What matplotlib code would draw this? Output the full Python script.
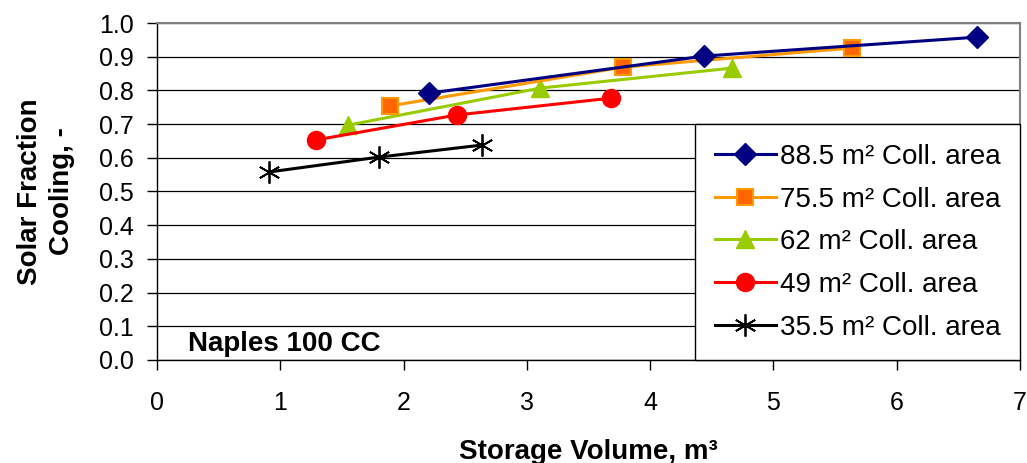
import matplotlib
matplotlib.use('Agg')
import matplotlib.pyplot as plt

plt.rcParams['font.family'] = ['Liberation Sans', 'DejaVu Sans']

# Datos
etiquetas = ['88.5 m² Coll. area', '75.5 m² Coll. area', '62 m² Coll. area',
             '49 m² Coll. area', '35.5 m² Coll. area']
vol_885 = [2.21, 4.44, 6.65]
sf_885 = [0.792, 0.902, 0.958]
vol_755 = [1.89, 3.78, 5.64]
sf_755 = [0.754, 0.869, 0.926]
vol_62 = [1.55, 3.11, 4.66]
sf_62 = [0.697, 0.807, 0.866]
vol_49 = [1.29, 2.43, 3.68]
sf_49 = [0.653, 0.727, 0.777]
vol_355 = [0.91, 1.80, 2.64]
sf_355 = [0.558, 0.602, 0.638]

fig = plt.figure(figsize=(10.27, 4.63), dpi=100)
ax = fig.add_axes([0.1529, 0.2225, 0.8403, 0.7278])

ax.plot(vol_885, sf_885, color='#000080', lw=2.2, marker='D', ms=11,
        mfc='#000080', mec='#000080', label=etiquetas[0], zorder=5)
ax.plot(vol_755, sf_755, color='#FF9900', lw=2.2, marker='s', ms=12,
        mfc='#FF6600', mec='#FF9900', mew=1.5, label=etiquetas[1], zorder=4)
ax.plot(vol_62, sf_62, color='#99CC00', lw=2.2, marker='^', ms=13,
        mfc='#99CC00', mec='#99CC00', label=etiquetas[2], zorder=3)
ax.plot(vol_49, sf_49, color='#FF0000', lw=2.2, marker='o', ms=13,
        mfc='#FF0000', mec='#FF0000', label=etiquetas[3], zorder=3)
ax.plot(vol_355, sf_355, color='#000000', lw=2.2, marker=(6, 2, 0), ms=16,
        mew=1.3, mec='#000000', label=etiquetas[4], zorder=3)

ax.set_xlim(0, 7)
ax.set_ylim(0, 1.0)
ax.set_xticks(range(0, 8))
ax.set_yticks([i / 10 for i in range(11)])
ax.set_yticklabels(['%.1f' % (i / 10) for i in range(11)])
ax.tick_params(labelsize=18, direction='out', length=7, width=1, color='black')
ax.tick_params(axis='y', pad=10)
ax.tick_params(axis='x', pad=15.5)
ax.grid(axis='y', color='black', lw=0.9, zorder=0)
ax.set_axisbelow(True)

for s in ['top', 'right']:
    ax.spines[s].set_color('#808080')
    ax.spines[s].set_linewidth(1.5)
for s in ['left', 'bottom']:
    ax.spines[s].set_color('black')
    ax.spines[s].set_linewidth(1)

ax.set_xlabel('Storage Volume, m³', fontsize=20, fontweight='bold', labelpad=17)
ax.set_ylabel('Solar Fraction\nCooling, -', fontsize=20, fontweight='bold',
              labelpad=17, linespacing=1.3)

ax.text(0.036, 0.026, 'Naples 100 CC', transform=ax.transAxes, fontsize=20,
        fontweight='bold', ha='left', va='baseline')

leg = ax.legend(loc='lower right', bbox_to_anchor=(1.0, 0.0), borderaxespad=0,
                fontsize=20, frameon=True, fancybox=False, edgecolor='black',
                framealpha=1, handlelength=2.2, handletextpad=0.15,
                labelspacing=0.6, borderpad=0.7)
leg.get_frame().set_linewidth(1)

fig.savefig('out.png', dpi=100)
